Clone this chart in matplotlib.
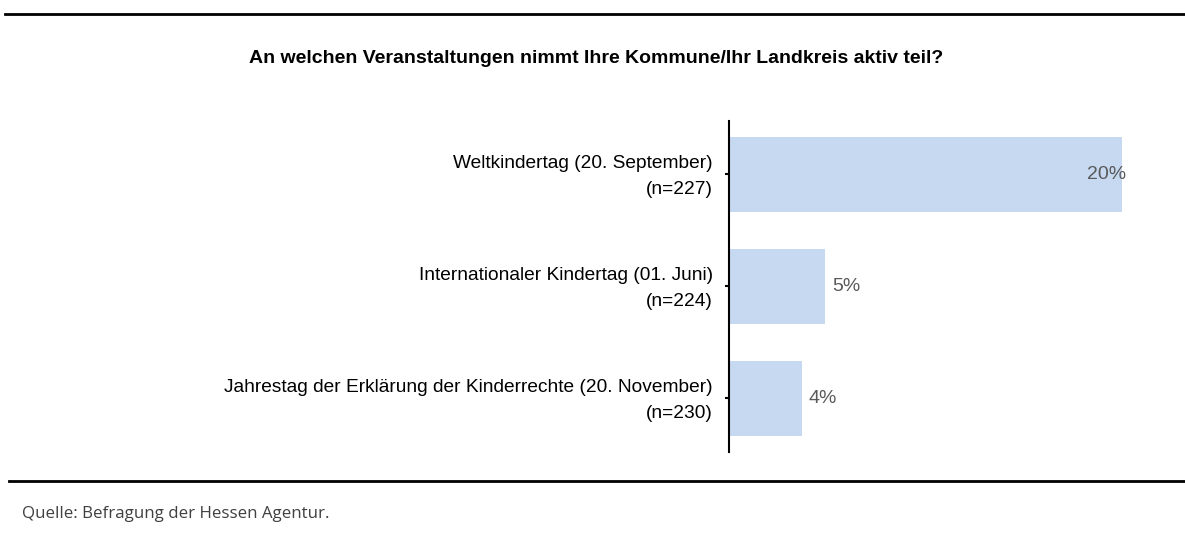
import matplotlib.pyplot as plt
from matplotlib.lines import Line2D
from matplotlib.transforms import ScaledTranslation

# data
kategorien = ["Weltkindertag (20. September)\n(n=227)",
              "Internationaler Kindertag (01. Juni)\n(n=224)",
              "Jahrestag der Erklärung der Kinderrechte (20. November)\n(n=230)"]
werte = [20.0, 4.9, 3.7]
labels = ["20%", "5%", "4%"]

titel = "An welchen Veranstaltungen nimmt Ihre Kommune/Ihr Landkreis aktiv teil?"
quelle = "Quelle: Befragung der Hessen Agentur."

plt.rcParams['font.family'] = ['Liberation Sans', 'DejaVu Sans']

fig = plt.figure(figsize=(11.85, 5.34), dpi=100)
ax = fig.add_axes([0.6152, 0.1536, 0.3637, 0.6199])

y = range(len(werte))
ax.barh(y, werte, height=0.67, color="#C6D9F1")
ax.set_xlim(0, 21.93)
ax.set_ylim(2.478, -0.478)

for i, v in enumerate(werte):
    if v > 15:
        ax.text(v + 0.2, i, labels[i], ha="right", va="center", fontsize=14, color="#595959")
    else:
        ax.text(v + 0.35, i, labels[i], ha="left", va="center", fontsize=14, color="#595959")

ax.set_yticks(list(y))
ax.set_yticklabels(kategorien, fontsize=13.8, linespacing=1.65)
ax.tick_params(axis="y", length=3, width=1.5, pad=8.5)
# labels sit slightly above the tick in the original
for lab in ax.get_yticklabels():
    lab.set_transform(lab.get_transform() + ScaledTranslation(0, 3 / 72, fig.dpi_scale_trans))
ax.set_xticks([])
for s in ["top", "right", "bottom"]:
    ax.spines[s].set_visible(False)
ax.spines["left"].set_linewidth(1.5)

fig.text(0.503, 0.891, titel, ha="center", va="center", fontsize=14, fontweight="bold")
fig.text(0.0186, 0.037, quelle, ha="left", va="center", fontsize=12.2,
         color="#404040", family=["Open Sans", "DejaVu Sans"])

fig.add_artist(Line2D([0.004, 1.0], [1 - 14 / 534, 1 - 14 / 534], color="black", lw=2))
fig.add_artist(Line2D([0.008, 1.0], [1 - 481 / 534, 1 - 481 / 534], color="black", lw=2))

fig.savefig("out.png", dpi=100)
